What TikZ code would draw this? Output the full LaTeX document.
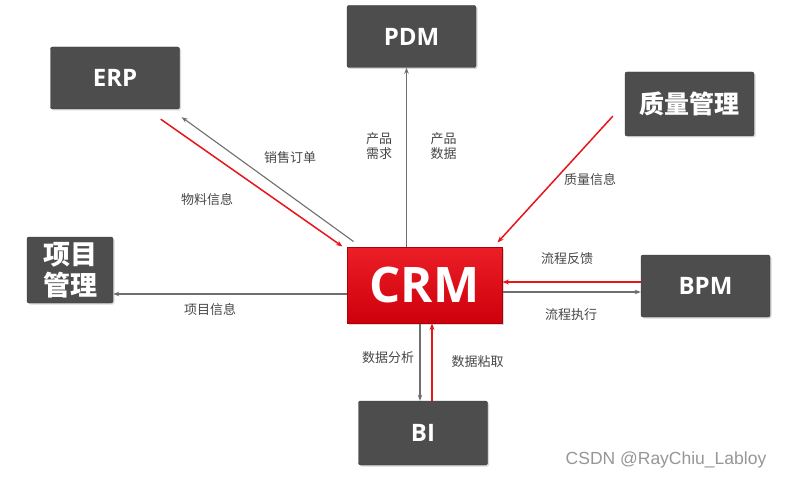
\documentclass[tikz,border=0pt]{standalone}
\usepackage{fontspec}
\setmainfont{Open Sans}
\newfontfamily\cjk{Noto Sans CJK SC}
\newfontfamily\markfont{Liberation Sans}
\usetikzlibrary{arrows.meta,shadows,calc}

\definecolor{boxgray}{RGB}{77,77,77}
\definecolor{boxedge}{RGB}{55,55,55}
\definecolor{linegray}{RGB}{110,110,110}
\definecolor{linered}{RGB}{232,20,28}
\definecolor{crmtop}{RGB}{236,30,38}
\definecolor{crmbot}{RGB}{205,0,12}
\definecolor{crmedge}{RGB}{170,0,10}
\definecolor{labelgray}{RGB}{70,70,70}
\definecolor{markgray}{RGB}{150,150,150}

\begin{document}
\begin{tikzpicture}[x=1pt,y=-1pt,
  sysbox/.style={draw=boxedge, fill=boxgray, rounded corners=2pt, text=white,
    inner sep=0pt, minimum width=129pt, minimum height=62pt,
    font=\bfseries\fontsize{24}{26}\selectfont,
    drop shadow={shadow xshift=1.5pt, shadow yshift=-1.5pt, fill=black!25, opacity=0.6}},
  cjkbox/.style={sysbox, font=\cjk\bfseries\fontsize{25}{30}\selectfont},
  crmbox/.style={draw=crmedge, line width=1pt, top color=crmtop, bottom color=crmbot,
    text=white, inner sep=0pt, minimum width=155pt, minimum height=76pt,
    font=\bfseries\fontsize{49}{52}\selectfont,
    drop shadow={shadow xshift=1.5pt, shadow yshift=-1.5pt, fill=black!25, opacity=0.6}},
  grayflow/.style={draw=linegray, line width=1.1pt, -{Stealth[length=6pt,width=4.5pt]}},
  redflow/.style={draw=linered, line width=1.5pt, -{Stealth[length=6.5pt,width=5pt]}},
  flowlabel/.style={text=labelgray, inner sep=0pt, align=center,
    font=\cjk\fontsize{13}{14.5}\selectfont},
]
\useasboundingbox (0,0) rectangle (786,478);

% systems
\node[crmbox] (crm) at (424.5,285) {CRM};
\node[sysbox] (erp) at (115,78) {ERP};
\node[sysbox] (pdm) at (411.5,36.5) {PDM};
\node[cjkbox, minimum height=64pt] (qm) at (689.5,104) {质量管理};
\node[cjkbox, minimum width=86pt, minimum height=66pt, align=center,
      font=\cjk\bfseries\fontsize{27}{31}\selectfont] (pm) at (70,270) {项目\\管理};
\node[sysbox] (bpm) at (705.5,286) {BPM};
\node[sysbox, minimum height=64pt] (bi) at (423,433) {BI};

% ERP
\draw[redflow] ($(erp.south east)+(-19,10)$) -- ($(crm.north west)+(-4,0)$);
\draw[grayflow] ($(crm.north west)+(7,-5)$) -- ($(erp.south east)+(2,8)$);
\node[flowlabel] (l1) at (290,158) {销售订单};
\node[flowlabel] (l2) at (207,200) {物料信息};

% PDM
\draw[grayflow] ([xshift=-18pt]crm.north) -- ([xshift=-18pt]crm.north |- pdm.south);
\node[flowlabel] (l3) at (379,146) {产品\\需求};
\node[flowlabel] (l4) at (443.5,146) {产品\\数据};

% quality
\draw[redflow] ($(qm.south west)+(-12,-20)$) -- ($(crm.north east)+(-5,-4)$);
\node[flowlabel] (l5) at (590,180) {质量信息};

% BPM
\draw[redflow] ([yshift=4pt]bpm.west) -- ([yshift=4pt]bpm.west -| crm.east);
\draw[grayflow] ([yshift=-7pt]crm.east) -- ([yshift=-7pt]crm.east -| bpm.west);
\node[flowlabel] (l6) at (567,259) {流程反馈};
\node[flowlabel] (l7) at (571,315) {流程执行};

% project management
\draw[grayflow] ([yshift=-9pt]crm.west) -- ([yshift=-9pt]crm.west -| pm.east);
\node[flowlabel] (l8) at (210,310) {项目信息};

% BI
\draw[grayflow] ([xshift=-4.5pt]crm.south) -- ([xshift=-4.5pt]crm.south |- bi.north);
\draw[redflow] ([xshift=9pt]bi.north) -- ([xshift=9pt]bi.north |- crm.south);
\node[flowlabel] (l9) at (388,358) {数据分析};
\node[flowlabel] (l10) at (477.5,362) {数据粘取};

% watermark
\node[text=markgray, inner sep=0pt, font=\markfont\fontsize{17.5}{19}\selectfont] (wm) at (666,460) {CSDN @RayChiu\_Labloy};
\end{tikzpicture}
\end{document}
